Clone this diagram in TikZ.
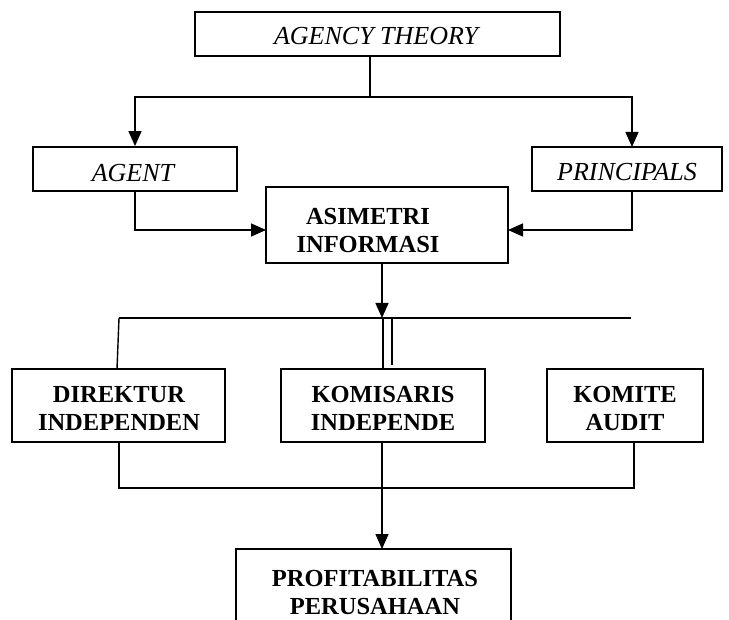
\documentclass[tikz,border=0pt]{standalone}
\usepackage{fontspec}
\setmainfont{Liberation Serif}
\usetikzlibrary{arrows.meta}
\begin{document}
\begin{tikzpicture}[x=1pt,y=-1pt,
  box/.style={draw,line width=1.8pt,inner sep=0pt},
  itl/.style={anchor=base,inner sep=0pt,font=\fontsize{26}{28}\selectfont\itshape},
  bld/.style={anchor=base,inner sep=0pt,font=\fontsize{24.5}{28}\selectfont\bfseries},
  conn/.style={line width=1.4pt},
  arr/.style={line width=1.4pt,-{Triangle[length=15pt,width=13pt]}}]
\useasboundingbox (0,0) rectangle (729,620);
\clip (0,0) rectangle (729,620);
% boxes
\node[box,minimum width=365pt,minimum height=44pt] (top) at (377.5,34) {};
\node[box,minimum width=204pt,minimum height=44pt] (agent) at (135,169) {};
\node[box,minimum width=190pt,minimum height=44pt] (princ) at (627,169) {};
\node[box,minimum width=242pt,minimum height=76pt] (asim) at (387,225) {};
\node[box,minimum width=213pt,minimum height=73pt] (dir) at (118.5,405.5) {};
\node[box,minimum width=204pt,minimum height=73pt] (kom) at (383,405.5) {};
\node[box,minimum width=156pt,minimum height=73pt] (komite) at (625,405.5) {};
\node[box,minimum width=275pt,minimum height=91pt] (prof) at (373.5,594.5) {};
% texts
\node[itl] (topt) at (376,45) {AGENCY THEORY};
\node[itl] (agentt) at (133,181.5) {AGENT};
\node[itl] (princt) at (627,180.5) {PRINCIPALS};
\node[bld] (asim1) at (368,225) {ASIMETRI};
\node[bld] (asim2) at (368,253) {INFORMASI};
\node[bld] (dir1) at (119,403) {DIREKTUR};
\node[bld] (dir2) at (119,431) {INDEPENDEN};
\node[bld] (kom1) at (383,403) {KOMISARIS};
\node[bld] (kom2) at (383,431) {INDEPENDE};
\node[bld] (komite1) at (625,403) {KOMITE};
\node[bld] (komite2) at (625,431) {AUDIT};
\node[bld] (prof1) at (375,586) {PROFITABILITAS};
\node[bld] (prof2) at (375,614) {PERUSAHAAN};
% junction coordinates
\coordinate (j1) at (370,97);
\coordinate (pn) at (632,147);
\coordinate (ps) at (632,191);
\coordinate (aw) at (266,230);
\coordinate (ae) at (508,230);
\coordinate (as) at (382,263);
\coordinate (bus) at (382,318);
\coordinate (busl) at (119,318);
\coordinate (busr) at (631,318);
\coordinate (dn) at (117,369);
\coordinate (d1t) at (383,318);
\coordinate (d1b) at (383,369);
\coordinate (d2t) at (392,318);
\coordinate (d2b) at (392,365);
\coordinate (ds) at (119,442);
\coordinate (ks) at (634,442);
\coordinate (lowl) at (119,488);
\coordinate (lowr) at (634,488);
\coordinate (kos) at (382,442);
\coordinate (pt) at (382,549);
% connectors
\draw[conn] (top.south -| j1) -- (j1);
\draw[arr] (j1) -| (agent.north);
\draw[arr] (j1) -| (pn);
\draw[arr] (agent.south) |- (aw);
\draw[arr] (ps) |- (ae);
\draw[arr] (as) -- (bus);
\draw[conn] (busl) -- (busr);
\draw[conn] (busl) -- (dn);
\draw[conn] (d1t) -- (d1b);
\draw[conn] (d2t) -- (d2b);
\draw[conn] (ds) -- (lowl) -- (lowr) -- (ks);
\draw[arr] (kos) -- (pt);
\end{tikzpicture}
\end{document}
